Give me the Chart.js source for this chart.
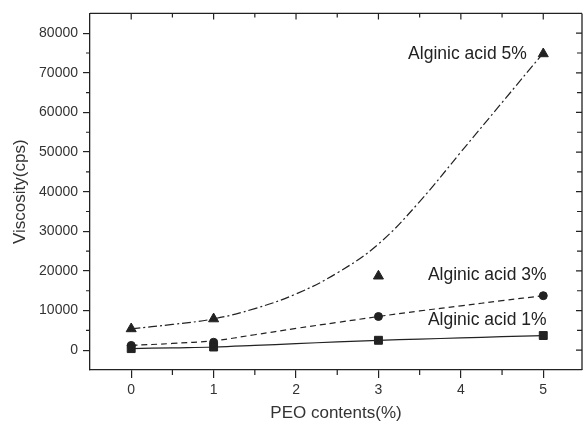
<!DOCTYPE html>
<html>
<head>
<meta charset="utf-8">
<script src="https://cdn.jsdelivr.net/npm/chart.js@4/dist/chart.umd.min.js"></script>
<style>
html,body{margin:0;padding:0;background:#fff;}
#wrap{width:584px;height:427px;position:relative;}
</style>
</head>
<body>
<div id="wrap"><canvas id="c" width="584" height="427"></canvas></div>
<script>
// ---- data ----
const peo = [0, 1, 3, 5];
const alg1 = [400, 800, 2500, 3700];
const alg3 = [1200, 2000, 8500, 13750];
const alg5 = [5400, 7900, 18700, 74800];

// fitted curves
const fitX = [0, 0.5, 1, 1.5, 2, 2.5, 3, 3.5, 4, 4.5, 5];
const fit5 = [5400, 6500, 7900, 10500, 14200, 19500, 26800, 37500, 50000, 62500, 75000];
const fit3 = [1200, 1700, 2400, 3900, 5500, 7000, 8500, 9900, 11200, 12500, 13750];
const fit1 = [400, 600, 800, 1200, 1650, 2100, 2500, 2800, 3100, 3400, 3700];

const xTicks = [0, 1, 2, 3, 4, 5];
const yTicks = [0, 10000, 20000, 30000, 40000, 50000, 60000, 70000, 80000];
const seriesNames = ['Alginic acid 1%', 'Alginic acid 3%', 'Alginic acid 5%'];

const INK = '#222';
const FONT = "'Liberation Sans', Arial, sans-serif";

function pts(xs, ys){ return xs.map((x,i)=>({x:x, y:ys[i]})); }

// annotation anchors (data units; right-aligned text)
const annot = [
  {text: seriesNames[2], x: 4.80, y: 74600},
  {text: seriesNames[1], x: 5.04, y: 19000},
  {text: seriesNames[0], x: 5.04, y: 7500}
];

const frame = {
  id: 'frame',
  afterDraw(chart){
    const ctx = chart.ctx, a = chart.chartArea;
    const xs = chart.scales.x, ys = chart.scales.y;
    ctx.save();
    ctx.strokeStyle = INK; ctx.lineWidth = 1.3;
    ctx.beginPath();
    ctx.moveTo(a.left, a.top); ctx.lineTo(a.right, a.top);
    ctx.moveTo(a.right, a.top); ctx.lineTo(a.right, a.bottom);
    ctx.stroke();
    ctx.lineWidth = 1.2;
    ctx.beginPath();
    for (let v = -0.5; v <= 5.5; v += 0.5){
      const px = xs.getPixelForValue(v);
      if (px < a.left + 1 || px > a.right - 1) continue;
      const major = Math.abs(v - Math.round(v)) < 1e-6;
      if (!major){ ctx.moveTo(px, a.bottom); ctx.lineTo(px, a.bottom + 5); }
      ctx.moveTo(px, a.top); ctx.lineTo(px, a.top + (major ? 6 : 4));
    }
    for (let v = -5000; v <= 85000; v += 5000){
      const py = ys.getPixelForValue(v);
      if (py < a.top + 1 || py > a.bottom - 1) continue;
      const major = (v % 10000) === 0;
      if (!major){ ctx.moveTo(a.left, py); ctx.lineTo(a.left - 4, py); }
      ctx.moveTo(a.right, py); ctx.lineTo(a.right - (major ? 6 : 5), py);
    }
    ctx.stroke();
    ctx.fillStyle = INK;
    ctx.font = "17.5px " + FONT;
    ctx.textAlign = 'right'; ctx.textBaseline = 'middle';
    annot.forEach(t => ctx.fillText(t.text, xs.getPixelForValue(t.x), ys.getPixelForValue(t.y)));
    ctx.restore();
  }
};

const lineBase = {showLine:true, pointRadius:0, borderColor:INK, borderWidth:1.2, fill:false, tension:0.4};
const markBase = {showLine:false, backgroundColor:INK, borderColor:INK, borderWidth:1};

new Chart(document.getElementById('c'), {
  type: 'scatter',
  data: {
    datasets: [
      Object.assign({label: seriesNames[0]+' fit', data: pts(fitX, fit1)}, lineBase),
      Object.assign({label: seriesNames[1]+' fit', data: pts(fitX, fit3), borderDash:[6,4]}, lineBase),
      Object.assign({label: seriesNames[2]+' fit', data: pts(fitX, fit5), borderDash:[9,3,2,3]}, lineBase),
      Object.assign({label: seriesNames[0], data: pts(peo, alg1), pointStyle:'rect', pointRadius:5.6}, markBase),
      Object.assign({label: seriesNames[1], data: pts(peo, alg3), pointStyle:'circle', pointRadius:4}, markBase),
      Object.assign({label: seriesNames[2], data: pts(peo, alg5), pointStyle:'triangle', pointRadius:5.8}, markBase)
    ]
  },
  options: {
    responsive: false,
    animation: false,
    layout: {autoPadding: false, padding: {top: 8, right: 2, left: 0, bottom: 0}},
    plugins: {legend: {display:false}, tooltip: {enabled:false}},
    scales: {
      x: {
        type: 'linear', min: -0.5, max: 5.47,
        afterBuildTicks(s){ s.ticks = xTicks.map(v=>({value:v})); },
        afterFit(s){ s.height = 57; },
        grid: {drawOnChartArea:false, drawTicks:true, tickLength:8, color:INK, lineWidth:1.2},
        border: {display:true, color:INK, width:1.3},
        ticks: {color:'#333', font:{family:FONT, size:14}, padding:4, maxRotation:0},
        title: {display:true, text:'PEO contents(%)', color:'#333', font:{family:FONT, size:17}, padding:{top:0, bottom:3}}
      },
      y: {
        type: 'linear', min: -5000, max: 85000,
        afterBuildTicks(s){ s.ticks = yTicks.map(v=>({value:v})); },
        afterFit(s){ s.width = 90; },
        grid: {drawOnChartArea:false, drawTicks:true, tickLength:7, color:INK, lineWidth:1.2},
        border: {display:true, color:INK, width:1.3},
        ticks: {color:'#333', font:{family:FONT, size:14}, padding:5, callback: v => String(v)},
        title: {display:true, text:'Viscosity(cps)', color:'#333', font:{family:FONT, size:17}, padding:{top:10, bottom:0}}
      }
    }
  },
  plugins: [frame]
});
</script>
</body>
</html>
